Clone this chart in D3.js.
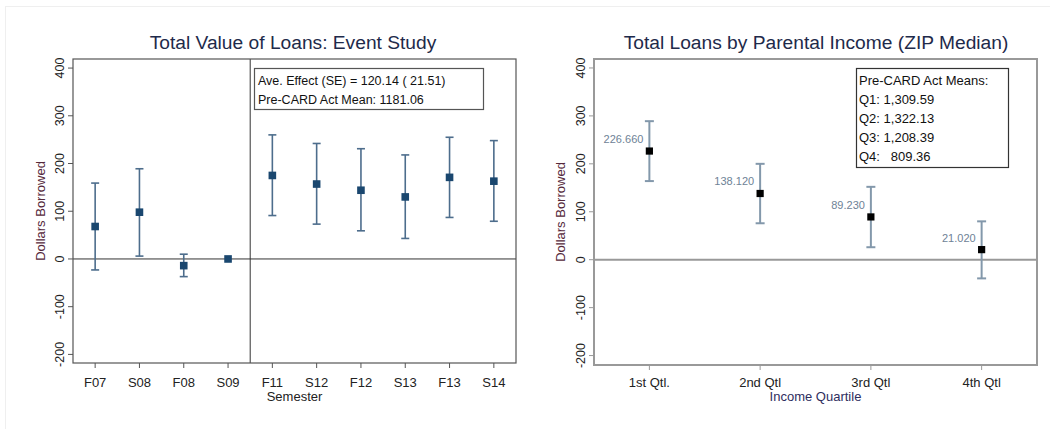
<!DOCTYPE html>
<html>
<head>
<meta charset="utf-8">
<script src="https://cdnjs.cloudflare.com/ajax/libs/d3/7.8.5/d3.min.js"></script>
<style>
  html, body { margin: 0; padding: 0; background: #fff; }
  svg { display: block; font-family: "Liberation Sans", Arial, sans-serif; }
</style>
</head>
<body>
<svg id="chart" width="1050" height="429"></svg>
<script>
// ---- Event study: semester coefficients with 95% CIs ----
const semesters = ["F07", "S08", "F08", "S09", "F11", "S12", "F12", "S13", "F13", "S14"];
const semEstimate = [68, 98, -14, 0, 175, 157, 144, 130, 171, 163];
const semLower    = [-23, 6, -37, null, 91, 73, 59, 43, 87, 79];
const semUpper    = [159, 189, 10, null, 260, 242, 231, 218, 255, 248];
const eventNote   = ["Ave. Effect (SE) = 120.14 ( 21.51)", "Pre-CARD Act Mean: 1181.06"];

// ---- Effects by parental income quartile ----
const quartiles   = ["1st Qtl.", "2nd Qtl", "3rd Qtl", "4th Qtl"];
const qEstimate   = [226.66, 138.12, 89.23, 21.02];
const qLower      = [164, 76, 26, -39];
const qUpper      = [289, 200, 152, 80];
const qNote       = ["Pre-CARD Act Means:", "Q1: 1,309.59", "Q2: 1,322.13", "Q3: 1,208.39", "Q4:   809.36"];

const yTicks = [-200, -100, 0, 100, 200, 300, 400];

const svg = d3.select("#chart");

// faint outer frame of the figure
svg.append("rect").attr("x", 5.5).attr("y", 6.5).attr("width", 1060).attr("height", 430)
  .attr("fill", "none").attr("stroke", "#efefef");

function yAxisBlock(g, y, x0, opts) {
  yTicks.forEach(t => {
    g.append("line").attr("x1", x0 - 5).attr("x2", x0).attr("y1", y(t)).attr("y2", y(t))
      .attr("stroke", opts.tickColor).attr("stroke-width", 1);
    g.append("text")
      .attr("transform", `translate(${x0 - 9},${y(t)}) rotate(-90)`)
      .attr("text-anchor", "middle").attr("font-size", 12.5).attr("fill", "#222")
      .text(t);
  });
}

// ================= Left panel =================
(function () {
  const L = 73, R = 516, T = 59, B = 363;
  const x = d3.scaleLinear().domain([-0.5, semesters.length - 0.5]).range([L, R]);
  const y = d3.scaleLinear().domain([-218, 419]).range([B, T]);
  const g = svg.append("g");

  g.append("text").attr("x", 293).attr("y", 49).attr("text-anchor", "middle")
    .attr("font-size", 19.2).attr("fill", "#1e2a4a").text("Total Value of Loans: Event Study");

  yAxisBlock(g, y, L, { tickColor: "#555" });
  g.append("text").attr("transform", `translate(45,${(T + B) / 2}) rotate(-90)`)
    .attr("text-anchor", "middle").attr("font-size", 13).attr("fill", "#55283a").text("Dollars Borrowed");

  semesters.forEach((s, i) => {
    g.append("line").attr("x1", x(i)).attr("x2", x(i)).attr("y1", B).attr("y2", B + 5)
      .attr("stroke", "#555");
    g.append("text").attr("x", x(i)).attr("y", 387).attr("text-anchor", "middle")
      .attr("font-size", 13).attr("fill", "#222").text(s);
  });
  g.append("text").attr("x", (L + R) / 2).attr("y", 401).attr("text-anchor", "middle")
    .attr("font-size", 13).attr("fill", "#222").text("Semester");

  // zero line and treatment divider
  g.append("line").attr("x1", L).attr("x2", R).attr("y1", y(0)).attr("y2", y(0))
    .attr("stroke", "#333").attr("stroke-width", 1);
  g.append("line").attr("x1", x(3.5)).attr("x2", x(3.5)).attr("y1", T).attr("y2", B)
    .attr("stroke", "#333").attr("stroke-width", 1);

  const barCol = "#4d6d8c";
  semesters.forEach((s, i) => {
    if (semLower[i] == null) return;
    const cx = x(i);
    g.append("line").attr("x1", cx).attr("x2", cx).attr("y1", y(semLower[i])).attr("y2", y(semUpper[i]))
      .attr("stroke", barCol).attr("stroke-width", 1.6);
    [semLower[i], semUpper[i]].forEach(v => {
      g.append("line").attr("x1", cx - 4).attr("x2", cx + 4).attr("y1", y(v)).attr("y2", y(v))
        .attr("stroke", barCol).attr("stroke-width", 1.6);
    });
  });
  semesters.forEach((s, i) => {
    g.append("rect").attr("x", x(i) - 3.8).attr("y", y(semEstimate[i]) - 3.8)
      .attr("width", 7.6).attr("height", 7.6).attr("fill", "#1a476f");
  });

  // note box
  g.append("rect").attr("x", 254.5).attr("y", 68.5).attr("width", 229).attr("height", 41)
    .attr("fill", "#fff").attr("stroke", "#555").attr("stroke-width", 1.2);
  eventNote.forEach((t, k) => {
    g.append("text").attr("x", 258).attr("y", 85 + k * 18.5).attr("font-size", 12.5)
      .attr("fill", "#111").text(t);
  });

  g.append("rect").attr("x", L).attr("y", T).attr("width", R - L).attr("height", B - T)
    .attr("fill", "none").attr("stroke", "#555").attr("stroke-width", 1.2);
})();

// ================= Right panel =================
(function () {
  const L = 594, R = 1037, T = 59, B = 365;
  const x = d3.scaleLinear().domain([0.5, quartiles.length + 0.5]).range([L, R]);
  const y = d3.scaleLinear().domain([-219.7, 418.7]).range([B, T]);
  const g = svg.append("g");

  g.append("text").attr("x", 816).attr("y", 49).attr("text-anchor", "middle")
    .attr("font-size", 19.2).attr("fill", "#1e2a4a").text("Total Loans by Parental Income (ZIP Median)");

  yAxisBlock(g, y, L, { tickColor: "#999" });
  g.append("text").attr("transform", `translate(565,${(T + B) / 2}) rotate(-90)`)
    .attr("text-anchor", "middle").attr("font-size", 13).attr("fill", "#55283a").text("Dollars Borrowed");

  quartiles.forEach((q, i) => {
    g.append("line").attr("x1", x(i + 1)).attr("x2", x(i + 1)).attr("y1", B).attr("y2", B + 5)
      .attr("stroke", "#999");
    g.append("text").attr("x", x(i + 1)).attr("y", 387).attr("text-anchor", "middle")
      .attr("font-size", 13).attr("fill", "#222").text(q);
  });
  g.append("text").attr("x", (L + R) / 2).attr("y", 401).attr("text-anchor", "middle")
    .attr("font-size", 13).attr("fill", "#2e2e5e").text("Income Quartile");

  g.append("line").attr("x1", L).attr("x2", R).attr("y1", y(0)).attr("y2", y(0))
    .attr("stroke", "#999").attr("stroke-width", 2);

  const barCol = "#8398ab";
  quartiles.forEach((q, i) => {
    const cx = x(i + 1);
    g.append("line").attr("x1", cx).attr("x2", cx).attr("y1", y(qLower[i])).attr("y2", y(qUpper[i]))
      .attr("stroke", barCol).attr("stroke-width", 2);
    [qLower[i], qUpper[i]].forEach(v => {
      g.append("line").attr("x1", cx - 4.5).attr("x2", cx + 4.5).attr("y1", y(v)).attr("y2", y(v))
        .attr("stroke", barCol).attr("stroke-width", 2);
    });
  });
  quartiles.forEach((q, i) => {
    const cx = x(i + 1), cy = y(qEstimate[i]);
    g.append("rect").attr("x", cx - 3.6).attr("y", cy - 3.6).attr("width", 7.2).attr("height", 7.2)
      .attr("fill", "#000");
    g.append("text").attr("x", cx - 6).attr("y", cy - 8).attr("text-anchor", "end")
      .attr("font-size", 11).attr("fill", "#6e8296").text(qEstimate[i].toFixed(3));
  });

  g.append("rect").attr("x", 856.5).attr("y", 68.5).attr("width", 152).attr("height", 99)
    .attr("fill", "#fff").attr("stroke", "#333").attr("stroke-width", 1.2);
  qNote.forEach((t, k) => {
    g.append("text").attr("x", 859).attr("y", 85 + k * 18.9).attr("font-size", 13)
      .attr("fill", "#111").style("white-space", "pre").text(t);
  });

  g.append("rect").attr("x", L).attr("y", T).attr("width", R - L).attr("height", B - T)
    .attr("fill", "none").attr("stroke", "#999").attr("stroke-width", 2);
})();
</script>
</body>
</html>
